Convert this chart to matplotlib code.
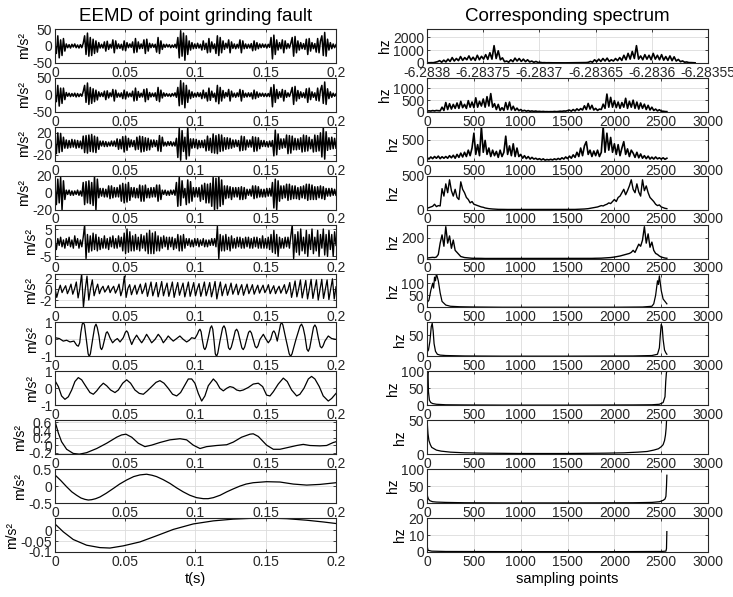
import numpy as np
import matplotlib.pyplot as plt
from matplotlib.ticker import FormatStrFormatter

plt.rcParams['font.family'] = ['Liberation Sans', 'DejaVu Sans']
plt.rcParams['axes.unicode_minus'] = False

# ---------------- EEMD components (m/s^2), evenly sampled over 0..0.2 s ----------------
imf1 = [5, -22, 30, -35, 18, -28, 22, -15, 6, -5,
        4, -6, 5, -3, 6, -5, 3, -6, 4, -5,
        8, 30, -25, 38, -30, 25, -28, 20, -22, 15,
        -18, 10, -6, 5, -6, 12, -15, 14, -10, 5,
        -6, 18, -20, 15, -8, 6, -7, 5, -12, 15,
        -14, 10, -5, 6, -4, 12, -20, 22, -18, 12,
        -8, 6, -7, 18, -22, 20, -15, 8, -5, 6,
        -4, 5, -18, 25, -22, 15, -10, 5, -4, 5,
        -3, 4, -5, 3, -4, 5, -6, 25, -35, 45,
        -30, 38, -42, 30, -25, 15, -12, 10, -8, 6,
        -7, 8, -6, 5, -12, 15, -10, 8, -20, 22,
        -18, 12, -8, 6, -22, 30, -28, 25, -20, 15,
        -10, 8, -6, 18, -20, 12, -7, 6, -8, 5,
        -6, 18, -20, 15, -8, 6, -7, 5, -6, 7,
        -14, 15, -12, 10, -8, 6, -5, 6, -4, 5,
        -6, 5, -4, 25, -38, 32, -25, 18, -12, 10,
        -8, 18, -20, 15, -8, 7, -6, 8, 25, -30,
        28, -20, 15, -12, 10, -8, 7, -10, 20, -25,
        22, -15, 10, -8, 7, -18, 22, -20, 15, 30,
        -28, 40, -30, 20, -12, 10, -8, 6, -5, 4]

imf2 = [4, -20, 28, -33, 20, -25, 20, -14, 7, -4,
        5, -5, 4, -4, 5, -6, 4, -5, 3, -4,
        10, 28, -22, 35, -28, 22, -25, 18, -20, 14,
        -15, 9, -5, 6, -5, 11, -14, 12, -9, 6,
        -5, 16, -18, 14, -7, 5, -6, 6, -11, 14,
        -12, 9, -6, 5, -5, 11, -18, 20, -16, 10,
        -7, 5, -6, 16, -20, 18, -14, 7, -6, 5,
        -5, 6, -16, 22, -20, 14, -9, 6, -4, 4,
        -4, 3, -5, 4, -3, 6, -7, 22, -32, 42,
        -28, 35, -38, 28, -22, 14, -11, 9, -7, 5,
        -6, 7, -5, 6, -11, 14, -9, 7, -18, 20,
        -16, 11, -7, 5, -20, 28, -26, 22, -18, 13,
        -9, 7, -5, 16, -18, 11, -6, 5, -7, 6,
        -5, 16, -18, 13, -7, 5, -6, 6, -5, 6,
        -12, 14, -11, 9, -7, 5, -4, 5, -5, 4,
        -5, 4, -5, 22, -35, 30, -22, 16, -11, 9,
        -7, 16, -18, 13, -7, 6, -5, 7, 22, -28,
        25, -18, 13, -11, 9, -7, 6, -9, 18, -22,
        20, -14, 9, -7, 6, -16, 20, -18, 14, 28,
        -25, 38, -28, 18, -11, 9, -7, 5, -4, 3]

imf3 = [6, -18, 20, -16, 19, -14, 12, -8, 7, -8,
        6, -7, 8, -6, 7, -8, 6, -7, 5, -9,
        14, -16, 15, -17, 16, -14, 17, -15, 14, -16,
        12, -10, 5, -4, 5, -5, 4, -5, 3, -4,
        5, -4, 5, -5, 9, -10, 8, -9, 13, -15,
        14, -12, 10, -6, 7, -5, 6, -11, 12, -10,
        14, -15, 13, -14, 11, -12, 10, -11, 7, -6,
        7, -5, 6, -13, 15, -14, 12, -4, 3, -4,
        4, -3, 4, -4, 3, -4, 10, -25, 28, -30,
        24, -14, 12, -28, 30, -22, 9, -8, 9, -7,
        8, -9, 6, -7, 6, -7, 7, -13, 14, -12,
        10, -16, 18, -17, 15, -18, 17, -14, 16, -13,
        11, -10, 11, -9, 10, -8, 7, -6, 7, -5,
        6, -13, 14, -12, 13, -11, 7, -6, 7, -6,
        13, -14, 12, -13, 11, -9, 6, -5, 6, -5,
        4, -6, 5, -5, 6, -22, 25, -20, 18, -10,
        9, -8, 9, -7, 16, -18, 15, -17, 14, -11,
        10, -11, 9, -10, 11, -15, 16, -14, 15, -13,
        12, -9, 8, -15, 16, -14, 15, -13, 20, -24,
        30, -28, 22, -12, 11, -10, 12, -9, 10, -8]

imf4 = [8, -14, 16, -12, 18, -20, 14, -8, 3, -2,
        3, -3, 2, -3, 2, -2, 3, -3, 2, -4,
        12, -14, 13, -12, 14, -13, 12, -15, 19, -20,
        16, -6, 5, -4, 5, -5, 4, -5, 8, -7,
        8, -6, 6, -5, 6, -5, 9, -10, 11, -12,
        10, -11, 12, -9, 6, -5, 6, -6, 5, -6,
        9, -10, 8, -10, 9, -6, 5, -6, 6, -5,
        6, -5, 9, -10, 9, -8, 3, -2, 3, -3,
        2, -3, 3, -2, 3, -3, 12, -16, 18, -15,
        14, -6, 5, -14, 15, -12, 13, -10, 6, -5,
        6, -5, 6, -10, 9, -8, 11, -12, 10, -12,
        11, -16, 18, -20, 17, -19, 20, -16, 15, -14,
        8, -7, 8, -6, 7, -8, 6, -5, 6, -5,
        6, -8, 7, -8, 6, -7, 4, -3, 4, -4,
        8, -7, 8, -6, 7, -5, 4, -5, 4, -5,
        5, -4, 5, -4, 12, -18, 16, -20, 14, -10,
        8, -7, 8, -6, 10, -9, 10, -8, 8, -7,
        8, -7, 6, -8, 7, -6, 8, -7, 10, -9,
        10, -8, 9, -8, 7, -8, 7, -6, 8, -7,
        7, -8, 5, -4, 5, -4, 5, -3, 4, -3]

imf5 = [0.5, -2.5, 1.5, -1, 2, -1.5, 1, -2, 1.5, -1,
        2, -1.5, 1, -2, 2.5, -1, 1.5, -2, 1, -1.5,
        2, 6.5, -5.8, 3, -3.5, 2.5, -3, 3.5, -2.5, 3,
        -3, 2, -2.5, 1.5, -2, 2.5, -2, 1.5, -2.5, 2,
        -1.5, 2.5, -2, 1.5, -2, 2.5, -1.5, 2, -3, 3.5,
        -4, 5, -3.5, 4, -3, 2.5, -3, 3, -2.5, 2,
        -3, 3, -2, 2.5, -3, 3.5, -4, 4.5, -4, 3.5,
        -4, 4, -3, 2.5, -3, 2, -2, 2.5, -1.5, 2,
        -2.5, 2, -1.5, 2, -2.5, 1.5, -2, 3, -3, 2.5,
        -3, 3, -2, 1.5, -1, 1.5, -1.5, 1, -1.5, 1.5,
        -1, 1.5, -1.5, 1, -1, 1.5, -1.5, 1, -1.5, 1,
        -1, 1.5, -1, 1.5, -1.5, 6, -5.8, 3, -3, 2.5,
        -3, 3, -2.5, 2, -3, 2.5, -2, 1.5, -2, 2,
        -1.5, 2, -2, 1.5, -2, 2, -1.5, 2, -2, 1.5,
        -2, 2, -1.5, 2, -2, 1.5, -2, 2.5, -2, 1.5,
        -2, 2, -2.5, 3, -3.5, 4.5, -4, 3, -5, 2,
        -2, 1.5, -2, 2, -1.5, 2, -2, 2.5, 6.5, -5.8,
        3, -3.5, 4, -4.5, 5, -3, 2, -4, 4.5, -5,
        3, -2.5, 5, -4, 2, -3, 4.5, -5, 3, -2,
        5, -4.5, 3, -5, 4.5, -2.5, 3, -5, 4, -1]

# one wave per line: crest, trough, crossing
imf6 = [0.3, -1.5, -0.2,
        0.8, -0.6, 0.1,
        0.7, -0.8, 0,
        1.0, -0.9, 0.1,
        1.4, -1.6, 0.2,
        3.0, -3.4, 0,
        2.5, -2.0, 0.2,
        1.8, -1.2, 0,
        1.0, -0.8, 0.1,
        0.6, -0.5, 0,
        0.7, -0.6, 0.1,
        0.6, -0.7, 0,
        1.0, -1.2, 0,
        2.5, -1.5, 0.2,
        0.9, -1.0, 0,
        0.8, -0.9, 0.1,
        1.0, -0.8, 0,
        1.2, -1.3, 0.1,
        1.4, -1.2, 0,
        1.3, -1.4, 0,
        1.5, -1.2, 0.1,
        1.2, -1.3, 0,
        1.4, -1.5, 0,
        1.3, -1.1, 0.1,
        1.2, -1.4, 0,
        1.4, -1.3, 0,
        1.3, -1.2, 0.1,
        1.1, -1.3, 0,
        1.4, -1.2, 0,
        1.3, -1.4, 0,
        1.5, -1.8, 0,
        1.4, -1.2, 0.1,
        1.0, -1.1, 0,
        1.2, -0.9, 0,
        1.0, -1.0, 0.1,
        0.9, -1.1, 0,
        1.0, -0.8, 0,
        0.9, -0.9, 0,
        0.8, -0.7, 0.1,
        0.8, -0.6, 0,
        0.9, -0.8, 0,
        0.7, -0.8, 0,
        0.6, -0.7, 0.1,
        0.9, -0.8, 0,
        1.3, -1.5, 0,
        1.6, -1.4, 0.1,
        1.8, -1.6, 0,
        1.7, -1.8, 0,
        1.9, -1.7, 0.1,
        1.8, -2.0, 0,
        1.9, -1.7, 0,
        1.8, -1.9, 0.1,
        2.0, -1.8, 0.5]

# slower components: time stamps in ms
imf7_ms = [0, 3.1, 5.9, 8.3, 10.7, 13.5, 15.5, 16.6, 17.6, 18.4, 19.4, 20.2, 21.0, 22.3,
           23.6, 24.4, 25.2, 26.8, 28.3, 29.2, 30.1, 31.3, 32.4, 33.2, 34.0, 35.3, 36.4,
           37.2, 38.2, 39.1, 41.0, 42.7, 44.4, 46.3, 48.6, 50.1, 51.0, 51.9, 52.9, 54.6,
           56.2, 58.1, 60.0, 61.7, 63.3, 65.2, 67.1, 68.8, 71.2, 73.5, 75.4, 77.1, 79.0,
           80.6, 82.3, 84.2, 86.6, 88.9, 91.3, 93.7, 95.6, 97.3, 99.6, 101.3, 102.4, 103.2,
           104.0, 104.8, 105.9, 106.7, 107.6, 109.1, 110.6, 111.5, 112.3, 113.1, 114.1,
           115.0, 115.9, 117.4, 119.3, 120.3, 121.2, 122.2, 123.5, 124.5, 125.5, 126.9,
           128.3, 129.3, 130.3, 131.6, 133.0, 134.0, 135.0, 136.4, 137.8, 138.8, 139.8,
           141.1, 142.5, 143.5, 144.5, 145.9, 148.3, 149.9, 151.8, 153.5, 154.9, 155.8,
           156.8, 158.2, 159.8, 160.5, 161.3, 162.2, 164.4, 166.7, 167.7, 168.7, 171.5,
           174.4, 175.5, 176.6, 177.9, 179.3, 180.3, 181.3, 182.6, 184.0, 185.0, 186.0,
           187.4, 188.8, 189.8, 190.8, 192.1, 194.5, 196.9, 200]
imf7 = [0.1, 0.05, -0.1, -0.05, -0.15, -0.1, -0.35, -0.4, -0.2, 0.4, 0.9, 1.0, 0.85, 0,
        -0.85, -1.0, -0.85, 0, 0.75, 0.9, 0.7, 0.2, -0.5, -0.6, -0.45, 0, 0.38,
        0.45, 0.3, 0.1, -0.2, -0.05, 0.05, -0.15, 0.1, 0.42, 0.5, 0.4, 0.1, -0.3,
        0, 0.25, 0, -0.2, 0, 0.3, 0.05, -0.2, 0, 0.3, 0.1, -0.2, 0,
        0.2, 0.05, -0.1, 0.05, 0.2, 0, -0.15, -0.05, 0.1, 0.05, 0.3, 0.52, 0.6,
        0.45, 0, -0.5, -0.6, -0.45, 0.1, 0.68, 0.8, 0.6, 0, -0.85,
        -1.0, -0.8, -0.1, 0.68, 0.8, 0.65, 0.2, -0.5, -0.6, -0.45, 0,
        0.5, 0.6, 0.45, 0, -0.5, -0.6, -0.45, 0, 0.42, 0.5, 0.38,
        0, -0.42, -0.5, -0.38, 0, 0.3, 0.05, -0.2, 0, 0.42, 0.5,
        0.35, -0.1, 0.6, 0.88, 1.0, 0.85, 0, -0.85, -1.0, -0.85, 0,
        0.78, 0.9, 0.7, 0.2, -0.58, -0.7, -0.5, 0.1, 0.72, 0.85, 0.7,
        0.1, -0.42, -0.5, -0.38, -0.1, 0.2, 0.05, 0.0]

imf8_ms = [0, 2.4, 4.7, 7.1, 9.5, 11.9, 14.2, 16.6, 19.0, 22.1,
           24.9, 27.3, 29.7, 32.0, 34.4, 36.8, 39.6, 42.7, 45.1, 48.2,
           51.0, 53.8, 56.9, 60.0, 62.9, 65.7, 68.8, 71.9, 74.7, 77.6,
           80.6, 83.7, 86.6, 89.4, 92.5, 94.9, 97.3, 99.6, 102.0, 104.4,
           106.7, 109.1, 112.7, 115.0, 117.4, 119.8, 122.2, 124.5, 126.9, 129.3,
           131.6, 134.0, 137.6, 141.1, 144.7, 147.8, 150.6, 153.0, 155.4, 158.9,
           162.5, 165.3, 168.4, 172.0, 174.3, 177.2, 180.3, 182.6, 185.0, 188.1,
           190.9, 194.5, 196.9, 200]
imf8 = [0.45, 0.1, -0.45, -0.65, -0.5, -0.1, 0.4, 0.63, 0.5, 0.1,
        -0.25, -0.35, -0.15, 0.1, 0.3, 0.15, -0.1, -0.25, -0.1, 0.3,
        0.5, 0.3, -0.1, -0.3, -0.35, -0.15, 0.1, 0.35, 0.45, 0.3,
        0, -0.35, -0.45, -0.25, 0.2, 0.55, 0.55, 0.3, -0.3, -0.75,
        -0.45, 0.15, 0.55, 0.35, 0, -0.15, 0.0, 0.1, 0.05, -0.1,
        -0.15, -0.1, 0.05, 0.25, 0.3, 0.1, -0.4, -0.45, -0.2, 0.25,
        0.6, 0.4, -0.1, -0.45, -0.35, 0.0, 0.55, 0.7, 0.55, 0.1,
        -0.45, -0.75, -0.6, -0.3]

imf9_ms = [0, 1.2, 2.4, 4.7, 8.3, 13.0, 17.3, 22.5, 29.7, 36.8,
           43.9, 47.4, 50.5, 54.6, 59.3, 64.0, 68.8, 74.7, 81.8, 89.0,
           93.7, 98.4, 103.2, 107.9, 115.0, 122.2, 126.9, 132.8, 138.8, 141.1,
           144.7, 150.6, 155.4, 160.1, 164.9, 172.0, 176.7, 181.5, 188.6, 193.3,
           198.1, 200]
imf9 = [0.63, 0.48, 0.32, 0.09, -0.11, -0.22, -0.24, -0.2, -0.09, 0.05,
        0.21, 0.27, 0.29, 0.21, 0.05, -0.04, 0.0, 0.07, 0.14, 0.17,
        0.14, 0.0, -0.09, -0.04, -0.01, 0.01, 0.08, 0.21, 0.29, 0.3,
        0.23, 0.0, -0.11, -0.11, -0.07, -0.01, 0.02, -0.01, -0.02, -0.01,
        0.07, 0.09]

imf10_ms = [0, 4, 8.3, 12, 15.4, 18.5, 21.3, 23.7, 26.1, 29, 32, 36.5, 41.5, 46, 51, 56,
            60.5, 65.2, 69, 72.3, 77, 81.8, 86.5, 91.3, 96, 100.8, 105.6, 109, 112.7,
            117.5, 122.2, 127, 131.6, 136, 141.1, 150.6, 160.1, 169.6, 179.1, 188.6, 200]
imf10 = [0.33, 0.17, -0.02, -0.17, -0.27, -0.35, -0.39, -0.41, -0.4, -0.37, -0.32, -0.21,
         -0.07, 0.06, 0.18, 0.28, 0.33, 0.35, 0.32, 0.28, 0.19, 0.08, -0.05, -0.17, -0.27,
         -0.34, -0.37, -0.37, -0.34, -0.27, -0.17, -0.08, 0, 0.06, 0.1, 0.13, 0.12, 0.06,
         0.03, 0.05, 0.1]

imf11_ms = [0, 5.9, 13.0, 22.5, 32.0, 39.1, 48.6, 60.5, 72.3, 84.2, 98.4, 112.7,
            126.9, 141.1, 150.6, 164.9, 179.1, 191.0, 200]
imf11 = [0.028, -0.008, -0.043, -0.069, -0.08, -0.082, -0.072, -0.054, -0.026, 0.003,
         0.028, 0.042, 0.05, 0.054, 0.055, 0.052, 0.045, 0.037, 0.03]

# ---------------- spectra (hz) over sampling points 0..2560 ----------------
spec1 = [20, 15, 25, 20, 60, 100, 180, 60, 220, 80,
         300, 120, 420, 150, 350, 180, 500, 200, 420, 250,
         550, 220, 450, 200, 600, 250, 520, 300, 650, 280,
         800, 300, 1350, 350, 950, 250, 400, 100, 150, 60,
         250, 100, 380, 150, 350, 120, 300, 100, 250, 80,
         150, 50, 120, 40, 50, 20, 25, 15, 18, 12,
         12, 10, 8, 10, 8, 6, 8, 10, 12, 10,
         12, 15, 18, 20, 25, 30, 30, 50, 120, 60,
         250, 100, 300, 120, 350, 150, 380, 120, 250, 150,
         350, 180, 420, 200, 600, 250, 750, 300, 900, 350,
         1350, 300, 550, 250, 650, 300, 600, 250, 750, 300,
         600, 250, 650, 220, 500, 200, 550, 180, 480, 150,
         280, 100, 160, 60, 80, 30, 30, 18, 12]

spec2 = [30, 45, 35, 55, 40, 60, 50, 45, 200, 60,
         400, 100, 350, 120, 320, 150, 380, 150, 450, 180,
         320, 150, 480, 200, 420, 180, 600, 200, 450, 250,
         550, 200, 650, 250, 780, 200, 350, 100, 320, 60,
         180, 60, 400, 100, 420, 80, 240, 60, 160, 50,
         100, 40, 65, 30, 55, 25, 40, 20, 35, 15,
         22, 10, 18, 8, 10, 6, 10, 8, 18, 10,
         16, 28, 22, 38, 32, 55, 75, 30, 100, 40,
         130, 60, 140, 80, 260, 100, 360, 120, 280, 80,
         150, 60, 120, 100, 330, 150, 760, 200, 620, 200,
         480, 180, 420, 150, 400, 200, 580, 150, 450, 200,
         500, 150, 420, 120, 380, 150, 330, 100, 280, 80,
         200, 60, 120, 40, 90, 30, 28, 14, 10]

spec3 = [80, 40, 90, 50, 100, 60, 110, 50, 95, 60,
         100, 60, 120, 70, 130, 60, 150, 80, 180, 90,
         200, 100, 250, 120, 300, 650, 150, 380, 120, 800,
         200, 480, 150, 300, 100, 250, 120, 220, 80, 250,
         100, 200, 580, 150, 350, 120, 400, 100, 300, 100,
         150, 60, 120, 50, 100, 40, 80, 40, 60, 30,
         50, 20, 45, 15, 30, 20, 35, 20, 45, 25,
         55, 30, 70, 40, 90, 50, 110, 60, 140, 80,
         200, 100, 300, 120, 350, 450, 150, 250, 100, 230,
         120, 250, 100, 200, 800, 200, 650, 250, 550, 200,
         400, 150, 380, 120, 300, 450, 150, 280, 100, 250,
         180, 80, 200, 70, 160, 60, 120, 50, 110, 40,
         85, 40, 90, 45, 70, 40, 70, 35, 60]

spec4 = [20, 30, 40, 50, 80, 45, 60, 55, 310, 200,
         380, 250, 440, 280, 200, 300, 180, 150, 410, 300,
         250, 180, 150, 100, 120, 80, 70, 60, 50, 40,
         35, 25, 20, 15, 12, 10, 8, 6, 5, 5,
         4, 4, 3, 3, 3, 2, 2, 2, 2, 2,
         2, 2, 2, 2, 2, 2, 2, 2, 2, 2,
         2, 2, 2, 2, 2, 2, 2, 2, 2, 2,
         2, 2, 2, 2, 3, 3, 3, 3, 4, 4,
         5, 5, 6, 8, 10, 12, 15, 20, 25, 30,
         35, 40, 50, 60, 55, 70, 80, 100, 90, 120,
         150, 120, 180, 200, 250, 300, 220, 280, 350, 440,
         300, 250, 380, 260, 200, 440, 280, 350, 250, 180,
         150, 120, 80, 60, 70, 40, 30, 20, 15]

spec5 = [5, 8, 10, 12, 10, 15, 40, 150, 230, 120,
         310, 150, 220, 100, 180, 80, 60, 40, 20, 15,
         10, 8, 5, 4, 3, 3, 2, 2, 2, 2,
         1, 1, 1, 1, 1, 1, 1, 1, 1, 1,
         1, 1, 1, 1, 1, 1, 1, 1, 1, 1,
         1, 1, 1, 1, 1, 1, 1, 1, 1, 1,
         1, 1, 1, 1, 1, 1, 1, 1, 1, 1,
         1, 1, 1, 1, 1, 1, 1, 1, 1, 1,
         1, 1, 1, 1, 1, 2, 2, 2, 2, 3,
         3, 3, 4, 4, 5, 5, 6, 8, 10, 12,
         15, 18, 20, 25, 30, 35, 40, 45, 50, 60,
         80, 60, 100, 140, 120, 180, 310, 150, 240, 110,
         160, 80, 50, 40, 25, 15, 10, 5, 3]

spec6_x = [0, 20, 40, 60, 70, 80, 90, 100, 120, 140, 160, 200, 250, 350, 500, 800, 1200,
           1600, 2000, 2300, 2400, 2420, 2440, 2460, 2470, 2480, 2500, 2520, 2540, 2560]
spec6 = [20, 30, 70, 100, 80, 125, 110, 140, 110, 60, 25, 10, 5, 3, 2, 1, 1,
         1, 1, 2, 5, 15, 50, 110, 95, 130, 70, 35, 25, 15]

spec7_x = [0, 15, 30, 45, 55, 65, 75, 90, 110, 140, 200, 400, 800, 1500, 2200, 2400,
           2460, 2480, 2490, 2500, 2510, 2520, 2535, 2550, 2560]
spec7 = [10, 15, 35, 70, 78, 60, 30, 12, 5, 3, 2, 1, 0.5, 0.5, 1, 2,
         5, 20, 50, 75, 70, 40, 15, 8, 5]

spec8_x = [0, 5, 10, 15, 25, 40, 60, 100, 200, 400, 800, 1500, 2200, 2400, 2480, 2520,
           2540, 2548, 2555, 2560]
spec8 = [60, 95, 100, 40, 15, 8, 5, 3, 1.5, 1, 0.5, 0.5, 1, 1.5, 3, 8,
         25, 70, 95, 100]

spec9_x = [0, 5, 10, 20, 35, 50, 75, 100, 150, 250, 400, 600, 1000, 1500, 1900, 2100,
           2250, 2350, 2420, 2470, 2500, 2520, 2535, 2545, 2552, 2557, 2560]
spec9 = [50, 40, 30, 20, 14, 10, 8, 6, 4.5, 3, 2, 1.5, 1, 1, 1.5, 2,
         3, 4, 6, 8, 11, 14, 20, 28, 38, 50, 50]

spec10_x = [0, 5, 15, 30, 60, 100, 200, 400, 800, 1500, 2200, 2400, 2480, 2520, 2540,
            2550, 2556, 2560]
spec10 = [30, 20, 12, 7, 4, 3, 2, 1, 0.5, 0.5, 1, 2, 4, 8, 12, 20, 50, 82]

spec11_x = [0, 3, 10, 50, 200, 1000, 2000, 2500, 2550, 2556, 2560]
spec11 = [20, 3, 1, 0.5, 0.3, 0.2, 0.2, 0.3, 0.5, 2, 12]

# ---------------- axis settings ----------------
left_ylim = [(-50, 50), (-50, 50), (-31, 31), (-20, 20), (-5.8, 6.6), (-3.4, 3.0),
             (-1, 1), (-1, 1), (-0.24, 0.66), (-0.5, 0.5), (-0.1, 0.055)]
left_yticks = [[-50, 0, 50], [-50, 0, 50], [-20, 0, 20], [-20, 0, 20], [-5, 0, 5], [-2, 0, 2],
               [-1, 0, 1], [-1, 0, 1], [-0.2, 0, 0.2, 0.4, 0.6], [-0.5, 0, 0.5], [-0.1, -0.05, 0]]
right_ylim = [(0, 2650), (0, 1450), (0, 800), (0, 500), (0, 330), (0, 140),
              (0, 80), (0, 100), (0, 50), (0, 100), (0, 20)]
right_yticks = [[0, 1000, 2000], [0, 500, 1000], [0, 500], [0, 500], [0, 200], [0, 50, 100],
                [0, 50], [0, 50, 100], [0, 50], [0, 50, 100], [0, 10, 20]]
row1_xlabels = ['-6.2838', '-6.28375', '-6.2837', '-6.28365', '-6.2836', '-6.28355']
# heavier strokes for the dense, noisy traces
left_lw = [1.1, 1.1, 1.1, 1.1, 1.0, 0.9, 0.9, 0.9, 0.9, 0.9, 0.9]
right_lw = [1.2, 1.2, 1.2, 1.0, 1.0, 0.9, 0.9, 0.9, 0.9, 0.9, 0.9]


def uniform(vals, end):
    return np.linspace(0, end, len(vals))


left_data = [(uniform(v, 0.2), v) for v in (imf1, imf2, imf3, imf4, imf5, imf6)]
left_data += [(np.array(ms) / 1000.0, v) for ms, v in
              ((imf7_ms, imf7), (imf8_ms, imf8), (imf9_ms, imf9), (imf10_ms, imf10), (imf11_ms, imf11))]
right_data = [(uniform(v, 2560), v) for v in (spec1, spec2, spec3, spec4, spec5)]
right_data += [(spec6_x, spec6), (spec7_x, spec7), (spec8_x, spec8), (spec9_x, spec9),
               (spec10_x, spec10), (spec11_x, spec11)]


def style(ax):
    ax.grid(True, color='#dcdcdc', linewidth=0.6)
    ax.set_axisbelow(True)
    for s in ax.spines.values():
        s.set_color('#262626')
        s.set_linewidth(0.8)
    ax.tick_params(direction='in', length=2.5, width=0.6, labelsize=10, pad=2,
                   colors='#262626', top=True, right=True)
    ax.yaxis.set_major_formatter(FormatStrFormatter('%g'))


fig, axes = plt.subplots(11, 2, figsize=(7.33, 5.97), dpi=100)
fig.subplots_adjust(left=0.075, right=0.966, top=0.9514, bottom=0.0754, wspace=0.324, hspace=0.44)

for r in range(11):
    # component
    ax = axes[r, 0]
    t, y = left_data[r]
    ax.plot(t, y, color='k', linewidth=left_lw[r])
    ax.set_xlim(0, 0.2)
    ax.set_ylim(*left_ylim[r])
    ax.set_yticks(left_yticks[r])
    ax.set_xticks([0, 0.05, 0.1, 0.15, 0.2])
    ax.set_xticklabels(['0', '0.05', '0.1', '0.15', '0.2'])
    ax.set_ylabel('m/s²', fontsize=10, labelpad=1)
    style(ax)

    # spectrum
    ax = axes[r, 1]
    x, y = right_data[r]
    ax.plot(x, y, color='k', linewidth=right_lw[r])
    if r == 0:
        ax.set_xlim(0, 2684)
        ax.set_xticks(np.linspace(0, 2684, 6))
        ax.set_xticklabels(row1_xlabels)
    else:
        ax.set_xlim(0, 3000)
        ax.set_xticks([0, 500, 1000, 1500, 2000, 2500, 3000])
        ax.set_xticklabels(['0', '500', '1000', '1500', '2000', '2500', '3000'])
    ax.set_ylim(*right_ylim[r])
    ax.set_yticks(right_yticks[r])
    ax.set_ylabel('hz', fontsize=10, labelpad=1)
    style(ax)

axes[0, 0].set_title('EEMD of point grinding fault', fontsize=13.5, pad=6)
axes[0, 1].set_title('Corresponding spectrum', fontsize=13.5, pad=6)
axes[10, 0].set_xlabel('t(s)', fontsize=10.5, labelpad=2)
axes[10, 1].set_xlabel('sampling points', fontsize=10.5, labelpad=2)

fig.savefig('out.png', dpi=100)
